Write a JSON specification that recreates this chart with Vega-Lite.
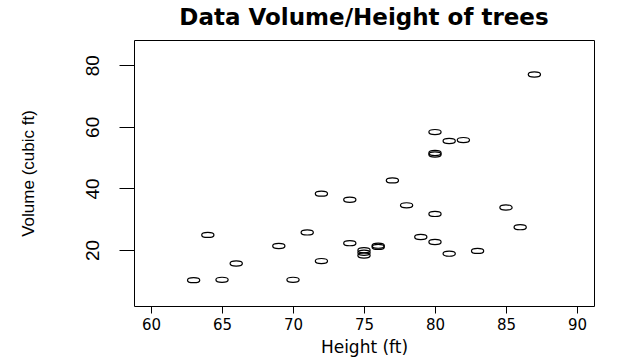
{
  "$schema": "https://vega.github.io/schema/vega-lite/v6.json",
  "width": 460,
  "height": 266,
  "autosize": {"type": "none"},
  "padding": {"left": 134, "top": 40, "right": 38, "bottom": 54},
  "background": "white",
  "title": {
    "text": "Data Volume/Height of trees",
    "font": "DejaVu Sans",
    "fontSize": 23,
    "fontWeight": "bold",
    "color": "black",
    "anchor": "middle",
    "offset": 10
  },
  "config": {
    "view": {"stroke": "black", "strokeWidth": 1},
    "axis": {"grid": false, "domain": false, "tickColor": "black", "labelColor": "black", "titleColor": "black", "tickWidth": 1}
  },
  "data": {
    "values": [
      {"Height": 70, "Volume": 10.3},
      {"Height": 65, "Volume": 10.3},
      {"Height": 63, "Volume": 10.2},
      {"Height": 72, "Volume": 16.4},
      {"Height": 81, "Volume": 18.8},
      {"Height": 83, "Volume": 19.7},
      {"Height": 66, "Volume": 15.6},
      {"Height": 75, "Volume": 18.2},
      {"Height": 80, "Volume": 22.6},
      {"Height": 75, "Volume": 19.9},
      {"Height": 79, "Volume": 24.2},
      {"Height": 76, "Volume": 21.0},
      {"Height": 76, "Volume": 21.4},
      {"Height": 69, "Volume": 21.3},
      {"Height": 75, "Volume": 19.1},
      {"Height": 74, "Volume": 22.2},
      {"Height": 85, "Volume": 33.8},
      {"Height": 86, "Volume": 27.4},
      {"Height": 71, "Volume": 25.7},
      {"Height": 64, "Volume": 24.9},
      {"Height": 78, "Volume": 34.5},
      {"Height": 80, "Volume": 31.7},
      {"Height": 74, "Volume": 36.3},
      {"Height": 72, "Volume": 38.3},
      {"Height": 77, "Volume": 42.6},
      {"Height": 81, "Volume": 55.4},
      {"Height": 82, "Volume": 55.7},
      {"Height": 80, "Volume": 58.3},
      {"Height": 80, "Volume": 51.5},
      {"Height": 80, "Volume": 51.0},
      {"Height": 87, "Volume": 77.0}
    ]
  },
  "mark": {
    "type": "point",
    "shape": "M-1,0A1,0.42,0,1,1,1,0A1,0.42,0,1,1,-1,0Z",
    "size": 150,
    "filled": false,
    "stroke": "black",
    "strokeWidth": 1.2,
    "opacity": 1
  },
  "encoding": {
    "x": {
      "field": "Height",
      "type": "quantitative",
      "scale": {"domain": [58.8, 91.2], "nice": false, "zero": false},
      "axis": {
        "title": "Height (ft)",
        "values": [60, 65, 70, 75, 80, 85, 90],
        "tickSize": 7,
        "labelFont": "DejaVu Sans",
        "labelFontSize": 15,
        "labelPadding": 4,
        "titleFont": "DejaVu Sans",
        "titleFontSize": 17,
        "titleFontWeight": "normal",
        "titlePadding": 7
      }
    },
    "y": {
      "field": "Volume",
      "type": "quantitative",
      "scale": {"domain": [1.8, 88.2], "nice": false, "zero": false},
      "axis": {
        "title": "Volume (cubic ft)",
        "values": [20, 40, 60, 80],
        "tickSize": 15,
        "labelAngle": 270,
        "labelAlign": "center",
        "labelBaseline": "bottom",
        "labelFont": "Liberation Sans",
        "labelFontSize": 19,
        "labelPadding": 17,
        "titleFont": "Liberation Sans",
        "titleFontSize": 17,
        "titleFontWeight": "normal",
        "titlePadding": 46
      }
    }
  }
}
